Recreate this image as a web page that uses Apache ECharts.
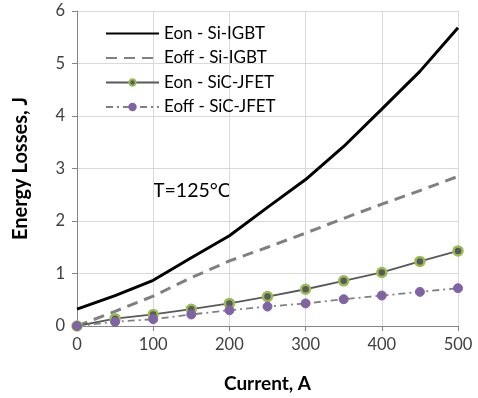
<!DOCTYPE html>
<html><head><meta charset="utf-8">
<script src="https://cdn.jsdelivr.net/npm/echarts@6/dist/echarts.min.js"></script>
<style>html,body{margin:0;padding:0;background:#fff}#c{width:478px;height:398px}</style>
</head><body><div id="c"></div>
<script>
const currents = [0, 50, 100, 150, 200, 250, 300, 350, 400, 450, 500];
const eonSiIGBT = [0.32, 0.58, 0.87, 1.30, 1.72, 2.26, 2.79, 3.42, 4.13, 4.85, 5.68];
const eoffSiIGBT = [0, 0.28, 0.57, 0.92, 1.24, 1.50, 1.77, 2.05, 2.32, 2.58, 2.85];
const eonSiCJFET = [0, 0.14, 0.22, 0.32, 0.43, 0.56, 0.70, 0.86, 1.02, 1.23, 1.43];
const eoffSiCJFET = [0, 0.08, 0.13, 0.22, 0.30, 0.37, 0.43, 0.51, 0.58, 0.65, 0.72];
const seriesNames = ['Eon - Si-IGBT', 'Eoff - Si-IGBT', 'Eon - SiC-JFET', 'Eoff - SiC-JFET'];
const pair = arr => currents.map((x, i) => [x, arr[i]]);
const font = 'Lato, "Open Sans", sans-serif';
const chart = echarts.init(document.getElementById('c'));
chart.setOption({
  animation: false,
  textStyle: {fontFamily: font},
  grid: {left: 77, right: 20, top: 11, bottom: 69},
  legend: {
    left: 105, top: 25, orient: 'vertical', itemGap: 7.5, itemWidth: 53, itemHeight: 8, padding: 0,
    textStyle: {fontSize: 17, color: '#000', fontFamily: font},
    data: [
      {name: seriesNames[0], itemStyle: {opacity: 0}},
      {name: seriesNames[1], itemStyle: {opacity: 0}},
      {name: seriesNames[2]},
      {name: seriesNames[3]}
    ]
  },
  xAxis: {
    type: 'value', min: 0, max: 500, interval: 100,
    name: 'Current, A', nameLocation: 'middle', nameGap: 48,
    nameTextStyle: {fontSize: 19, fontWeight: 'bold', color: '#000', fontFamily: font},
    axisLine: {show: true, lineStyle: {color: '#868686'}},
    axisTick: {show: true, length: 5, lineStyle: {color: '#868686'}},
    axisLabel: {fontSize: 16.5, color: '#404040', margin: 10},
    splitLine: {show: true, lineStyle: {color: '#d9d9d9'}}
  },
  yAxis: {
    type: 'value', min: 0, max: 6, interval: 1,
    name: 'Energy Losses, J', nameLocation: 'middle', nameGap: 46,
    nameTextStyle: {fontSize: 20, fontWeight: 'bold', color: '#000', fontFamily: font},
    axisLine: {show: true, lineStyle: {color: '#868686'}},
    axisTick: {show: true, length: 5, lineStyle: {color: '#868686'}},
    axisLabel: {fontSize: 16.5, color: '#404040', margin: 12},
    splitLine: {show: true, lineStyle: {color: '#d9d9d9'}}
  },
  graphic: [{
    type: 'text', left: 153, top: 181,
    style: {text: 'T=125°C', fontSize: 19.5, fill: '#000', fontFamily: font}
  }],
  series: [
    {name: seriesNames[0], type: 'line', data: pair(eonSiIGBT), showSymbol: false, symbol: 'none',
     lineStyle: {color: '#000', width: 3}, itemStyle: {color: '#000'}},
    {name: seriesNames[1], type: 'line', data: pair(eoffSiIGBT), showSymbol: false, symbol: 'none',
     lineStyle: {color: '#808080', width: 3, type: [11, 7]}, itemStyle: {color: '#808080'}},
    {name: seriesNames[2], type: 'line', data: pair(eonSiCJFET), symbol: 'circle', symbolSize: 9,
     lineStyle: {color: '#595959', width: 1.8},
     itemStyle: {color: '#595959', borderColor: '#9bbb59', borderWidth: 2.5}},
    {name: seriesNames[3], type: 'line', data: pair(eoffSiCJFET), symbol: 'circle', symbolSize: 9,
     lineStyle: {color: '#808080', width: 1.8, type: [7, 4, 2, 4]},
     itemStyle: {color: '#8064a2', borderColor: '#8064a2', borderWidth: 1}}
  ]
});
</script></body></html>
